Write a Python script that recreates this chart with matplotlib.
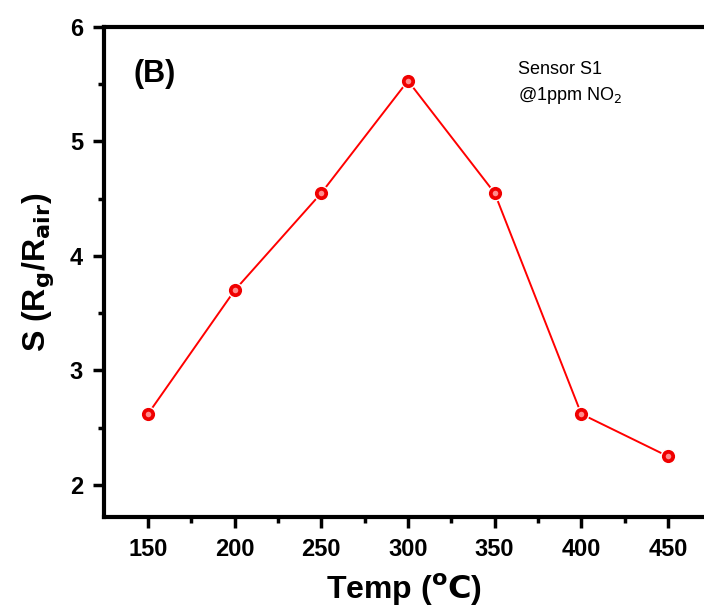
import matplotlib.pyplot as plt

plt.rcParams["font.family"] = ["Liberation Sans", "DejaVu Sans"]

temps = [150, 200, 250, 300, 350, 400, 450]
response = [2.62, 3.70, 4.55, 5.53, 4.55, 2.62, 2.25]

fig = plt.figure(figsize=(7.04, 6.12), dpi=100)
ax = fig.add_axes([0.1477, 0.1552, 0.8523, 0.8007])

ax.plot(temps, response, color="red", linewidth=1.4, zorder=2)
ax.plot(temps, response, linestyle="none", marker="o", markersize=10.5,
        markerfacecolor="#f00000", markeredgecolor="white", markeredgewidth=1.0, zorder=3)
ax.plot(temps, response, linestyle="none", marker="o", markersize=4,
        markerfacecolor="#ff8c8c", markeredgecolor="none", zorder=4)

ax.set_xlim(124.6, 470.8)
ax.set_ylim(1.72, 6.0)
ax.set_xticks(temps)
ax.set_xticks([175, 225, 275, 325, 375, 425], minor=True)
ax.set_yticks([2, 3, 4, 5, 6])
ax.set_yticks([2.5, 3.5, 4.5, 5.5], minor=True)

for side in ["left", "bottom", "top"]:
    ax.spines[side].set_linewidth(3.0)
ax.spines["right"].set_visible(False)

ax.tick_params(which="major", direction="out", length=8, width=2.5, labelsize=17, pad=7)
ax.tick_params(which="minor", direction="out", length=4, width=2.5)
for lab in ax.get_xticklabels() + ax.get_yticklabels():
    lab.set_fontweight("bold")

ax.set_xlabel("Temp ($\\mathbf{^oC}$)", fontsize=23, fontweight="bold", labelpad=8)
ax.set_ylabel("S (R$\\mathbf{_g}$/R$\\mathbf{_{air}}$)", fontsize=23, fontweight="bold", labelpad=10)

ax.text(0.05, 0.935, "(B)", transform=ax.transAxes, fontsize=22, fontweight="bold", va="top")
ax.text(0.69, 0.93, "Sensor S1\n@1ppm NO$_2$", transform=ax.transAxes, fontsize=13,
        va="top", linespacing=1.45)

fig.savefig("out.png", dpi=100, facecolor="white")
